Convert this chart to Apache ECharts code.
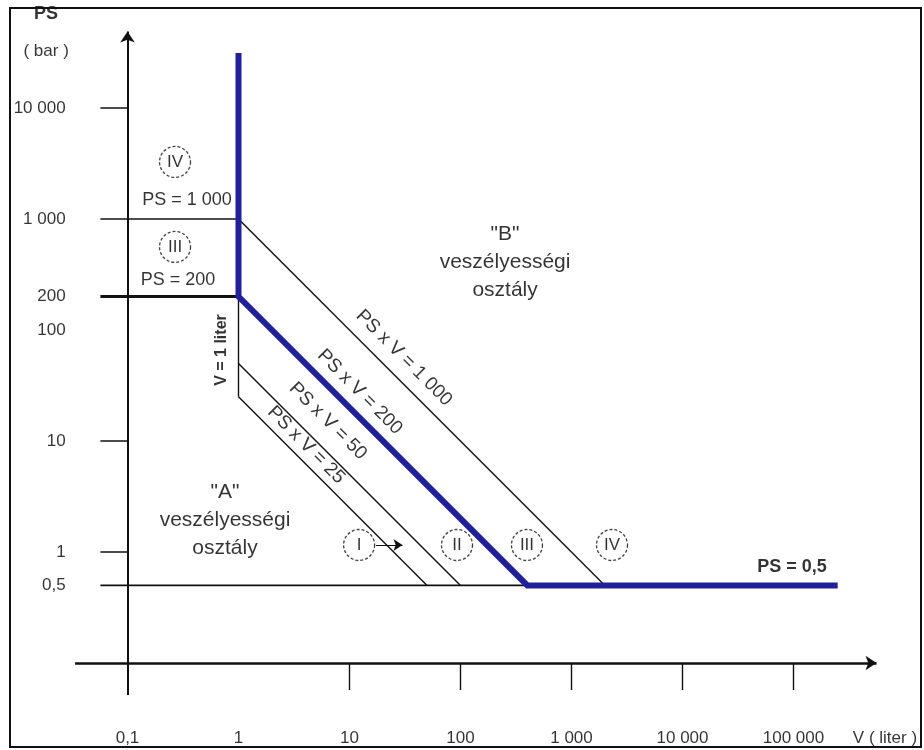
<!DOCTYPE html>
<html>
<head>
<meta charset="utf-8">
<script src="https://cdn.jsdelivr.net/npm/echarts@6/dist/echarts.min.js"></script>
<style>
html,body{margin:0;padding:0;background:#fff;}
#chart{width:924px;height:750px;}
</style>
</head>
<body>
<div id="chart"></div>
<script>
// ---------- DATA ----------
// x axis: V (liter), y axis: PS (bar), both logarithmic
const xTickValues = [10, 100, 1000, 10000, 100000];
const xLabelValues = [0.1, 1, 10, 100, 1000, 10000, 100000];
const xLabelTexts = ['0,1', '1', '10', '100', '1 000', '10 000', '100 000'];
const yTickValues = [10000, 10, 1];
const yLabelValues = [10000, 1000, 200, 100, 10, 1, 0.5];
const yLabelTexts = ['10 000', '1 000', '200', '100', '10', '1', '0,5'];

// category boundaries
const blueBoundary = [[1, 31300], [1, 200], [400, 0.5], [250000, 0.5]]; // PS x V = 200 boundary
const linePV1000 = [[1, 1000], [2000, 0.5]];
const linePV50 = [[1, 50], [100, 0.5]];
const linePV25 = [[1, 25], [50, 0.5]];
const lineV1 = [[1, 200], [1, 25]];
const ps1000Values = [1000];
const ps200Values = [200];
const ps05Values = [0.5];
const ps05End = 400;

// ---------- LAYOUT (data-space anchors) ----------
const axisV = 0.1;          // y axis drawn at V = 0.1
const axisPS = 0.1;         // x axis drawn at PS = 0.1
const tickEnd = 0.057;      // tick length end (both axes)
const yLabelAnchorV = 0.028;
const xLabelAnchorPS = 0.0211;
const FONT = 'Liberation Sans, Arial, sans-serif';
const Y_MAX = Math.pow(10, 550 / 111);
const Y_MIN = Math.pow(10, -193 / 111);

const thin = { color: '#111', width: 1.4 };
const series = [];

function addLine(data, style, z) {
  series.push({
    type: 'line', data: data, symbol: 'none', silent: true, animation: false,
    lineStyle: style, z: z || 2
  });
}

// axes
series.push({
  type: 'lines', coordinateSystem: 'cartesian2d', silent: true, animation: false,
  symbol: ['none', 'arrow'], symbolSize: [0, 11],
  lineStyle: { color: '#111', width: 2.6, opacity: 1 },
  data: [{ coords: [[0.0337, axisPS], [560000, axisPS]] }]
});
series.push({
  type: 'lines', coordinateSystem: 'cartesian2d', silent: true, animation: false,
  symbol: ['none', 'arrow'], symbolSize: [0, 11],
  lineStyle: { color: '#111', width: 2, opacity: 1 },
  data: [{ coords: [[axisV, 0.0515], [axisV, 49000]] }]
});
// ticks
xTickValues.forEach(v => addLine([[v, axisPS], [v, tickEnd]], { color: '#111', width: 1.4 }));
yTickValues.forEach(p => addLine([[tickEnd, p], [axisV, p]], { color: '#111', width: 1.6 }));

// horizontal PS lines
ps1000Values.forEach(p => addLine([[tickEnd, p], [1, p]], { color: '#111', width: 1.4 }));
ps200Values.forEach(p => addLine([[tickEnd, p], [1, p]], { color: '#111', width: 3 }));
ps05Values.forEach(p => addLine([[tickEnd, p], [ps05End, p]], { color: '#111', width: 1.6 }));

// diagonals
addLine(linePV1000, thin);
addLine(linePV50, thin);
addLine(linePV25, thin);
addLine(lineV1, thin);
// blue boundary
addLine(blueBoundary, { color: '#20209a', width: 6, join: 'miter' }, 5);

// small arrow from circle I
series.push({
  type: 'lines', coordinateSystem: 'cartesian2d', silent: true, animation: false,
  symbol: ['none', 'arrow'], symbolSize: [0, 9],
  lineStyle: { color: '#111', width: 1.2, opacity: 1 },
  data: [{ coords: [[17.3, 1.156], [30, 1.156]] }], z: 6
});

// text helper
function textSeries(items, labelOpt, z) {
  series.push({
    type: 'scatter', silent: true, animation: false, symbolSize: 1,
    itemStyle: { color: 'rgba(0,0,0,0)' }, z: z || 10,
    data: items.map(it => ({
      value: it.pos,
      label: Object.assign({ show: true, formatter: it.text }, it.label || {})
    })),
    label: Object.assign({ show: true, position: 'inside', color: '#000', fontFamily: FONT, fontSize: 17 }, labelOpt)
  });
}

// tick labels
textSeries(yLabelValues.map((v, i) => ({ pos: [yLabelAnchorV, v], text: yLabelTexts[i] })),
  { position: 'left', distance: 0, fontSize: 17 });
textSeries(xLabelValues.map((v, i) => ({ pos: [v, xLabelAnchorPS], text: xLabelTexts[i] })),
  { position: 'inside', fontSize: 17 });

// axis titles
textSeries([
  { pos: [0.01845, 70000], text: 'PS', label: { fontWeight: 'bold', fontSize: 18 } },
  { pos: [0.0185, 32600], text: '( bar )' },
  { pos: [667000, xLabelAnchorPS], text: 'V ( liter )' }
], { position: 'inside', fontSize: 17 });

// PS labels
textSeries([
  { pos: [0.344, 1483], text: 'PS = 1 000' },
  { pos: [0.285, 282], text: 'PS = 200' },
  { pos: [96900, 0.733], text: 'PS = 0,5', label: { fontWeight: 'bold' } }
], { position: 'inside', fontSize: 18 });

// rotated labels
textSeries([
  { pos: [0.71, 66], text: 'V = 1 liter', label: { rotate: 90, fontWeight: 'bold', fontSize: 16 } },
  { pos: [31.0, 56], text: 'PS x V = 1 000', label: { rotate: -45 } },
  { pos: [12.4, 27.6], text: 'PS x V = 200', label: { rotate: -45 } },
  { pos: [6.4, 15.1], text: 'PS x V = 50', label: { rotate: -45 } },
  { pos: [4.06, 9.2], text: 'PS x V = 25', label: { rotate: -45 } }
], { position: 'inside', fontSize: 19 });

// class labels
textSeries([
  { pos: [0.756, 1.94], text: '"A"\nveszélyességi\nosztály' },
  { pos: [252, 410], text: '"B"\nveszélyességi\nosztály' }
], { position: 'inside', fontSize: 21, lineHeight: 28, align: 'center' });

// category circles
const circles = [
  { pos: [0.268, 3264], text: 'IV' },
  { pos: [0.268, 560], text: 'III' },
  { pos: [12.2, 1.156], text: 'I' },
  { pos: [93, 1.156], text: 'II' },
  { pos: [397, 1.156], text: 'III' },
  { pos: [2317, 1.156], text: 'IV' }
];
series.push({
  type: 'scatter', silent: true, animation: false, symbol: 'circle', symbolSize: 31, z: 8,
  itemStyle: { color: '#fff', borderColor: '#111', borderWidth: 1.3, borderType: [3, 2] },
  label: { show: true, position: 'inside', color: '#000', fontFamily: FONT, fontSize: 17, formatter: p => p.data.name },
  data: circles.map(c => ({ value: c.pos, name: c.text }))
});

const chart = echarts.init(document.getElementById('chart'), null, { renderer: 'canvas' });
chart.setOption({
  backgroundColor: '#fff',
  animation: false,
  grid: { left: 16.5, top: 2, width: 888, height: 743, containLabel: false },
  xAxis: { type: 'log', logBase: 10, min: 0.01, max: 1000000, show: false },
  yAxis: { type: 'log', logBase: 10, min: Y_MIN, max: Y_MAX, show: false },
  graphic: [{
    type: 'rect', shape: { x: 10, y: 8, width: 911, height: 739 },
    style: { fill: 'none', stroke: '#111', lineWidth: 2 }, z: 100, silent: true
  }],
  series: series
});
</script>
</body>
</html>
